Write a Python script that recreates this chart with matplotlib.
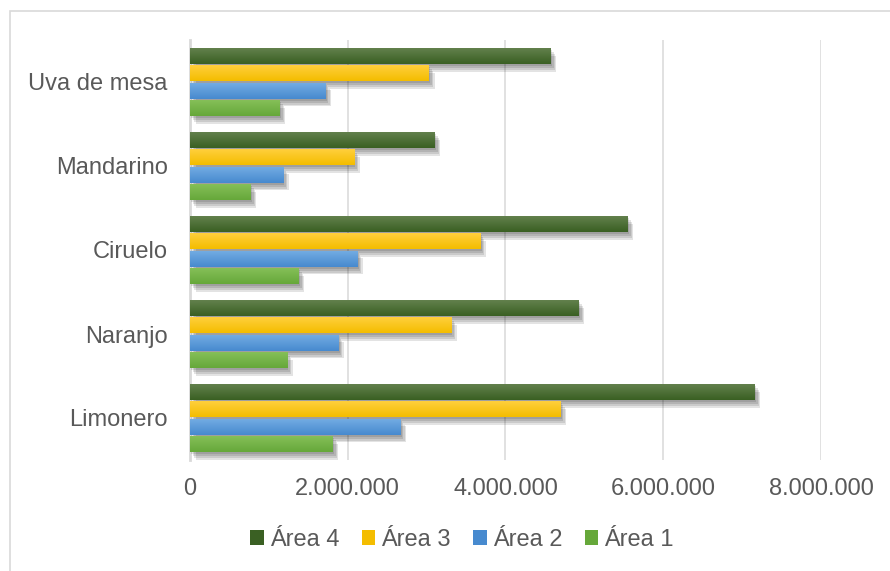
import numpy as np
import matplotlib
matplotlib.use("Agg")
import matplotlib.pyplot as plt
import matplotlib.patheffects as pe
from matplotlib.patches import Patch, Rectangle
from matplotlib.ticker import FuncFormatter, MultipleLocator
from matplotlib.colors import to_rgb

# Cultivos (de abajo hacia arriba en el eje)
cultivos = ["Limonero", "Naranjo", "Ciruelo", "Mandarino", "Uva de mesa"]

area_1 = [1810000, 1230000, 1380000, 770000, 1140000]
area_2 = [2670000, 1880000, 2120000, 1180000, 1720000]
area_3 = [4700000, 3310000, 3680000, 2080000, 3030000]
area_4 = [7160000, 4930000, 5550000, 3105000, 4575000]

series_names = ["Área 1", "Área 2", "Área 3", "Área 4"]
series_values = [area_1, area_2, area_3, area_4]
# (color claro arriba, color base abajo)
series_colors = [("#85bf58", "#66a83a"),
                 ("#72abe2", "#478acf"),
                 ("#ffcf3c", "#f4bd00"),
                 ("#62804c", "#3a6023")]

text_color = "#595959"
grid_color = "#d9d9d9"

plt.rcParams["font.family"] = ["Liberation Sans", "DejaVu Sans"]

fig = plt.figure(figsize=(8.9, 5.71), dpi=100)
ax = fig.add_axes([190 / 890, (571 - 460) / 571, (821 - 190) / 890, 420 / 571])

# Marco del gráfico
fig.add_artist(Rectangle((10 / 890, -0.2), 1.2, 1.2 - 11 / 571 + 0.0,
                         transform=fig.transFigure, fill=False,
                         edgecolor=grid_color, linewidth=1.2, zorder=-5))

y = np.arange(len(cultivos))
step = 0.207
height = 0.19
offsets = [-1.5 * step, -0.5 * step, 0.5 * step, 1.5 * step]

shadow = [pe.SimplePatchShadow(offset=(o, -1.4 * o), shadow_rgbFace="k", alpha=0.11)
          for o in (1.0, 2.0, 3.0, 4.0)] + [pe.Normal()]

for vals, off, (c_top, c_bot) in zip(series_values, offsets, series_colors):
    bars = ax.barh(y + off, vals, height=height, color=c_bot, zorder=3,
                   path_effects=shadow)
    grad = np.linspace(0, 1, 32)[:, None, None]
    top = np.array(to_rgb(c_top))[None, None, :]
    bot = np.array(to_rgb(c_bot))[None, None, :]
    img = top * (1 - grad) + bot * grad
    for b in bars:
        x0, y0, w, h = b.get_x(), b.get_y(), b.get_width(), b.get_height()
        ax.imshow(img, extent=(x0, x0 + w, y0, y0 + h), origin="upper",
                  aspect="auto", interpolation="bilinear", zorder=3.5)

ax.set_xlim(0, 8000000)
ax.set_ylim(-0.5, len(cultivos) - 0.5)
ax.set_yticks(y)
ax.set_yticklabels(cultivos)
ax.xaxis.set_major_locator(MultipleLocator(2000000))
ax.xaxis.set_major_formatter(FuncFormatter(lambda v, p: f"{v:,.0f}".replace(",", ".")))

ax.tick_params(axis="y", length=0, pad=16, labelsize=17, labelcolor=text_color)
ax.tick_params(axis="x", length=0, pad=13, labelsize=17, labelcolor=text_color)

ax.grid(axis="x", color=grid_color, linewidth=1.1, zorder=0)
ax.set_axisbelow(True)
for s in ("top", "right", "bottom"):
    ax.spines[s].set_visible(False)
ax.spines["left"].set_color(grid_color)
ax.spines["left"].set_linewidth(2)
ax.spines["left"].set_zorder(1)

handles = [Patch(facecolor=series_colors[i][1], edgecolor="none", label=series_names[i])
           for i in (3, 2, 1, 0)]
fig.legend(handles=handles, loc="center", bbox_to_anchor=(462 / 890, (571 - 540) / 571),
           ncol=4, frameon=False, fontsize=17, labelcolor=text_color,
           handlelength=0.58, handleheight=0.58, handletextpad=0.25,
           columnspacing=0.95, borderaxespad=0)

fig.savefig("out.png", dpi=100)
